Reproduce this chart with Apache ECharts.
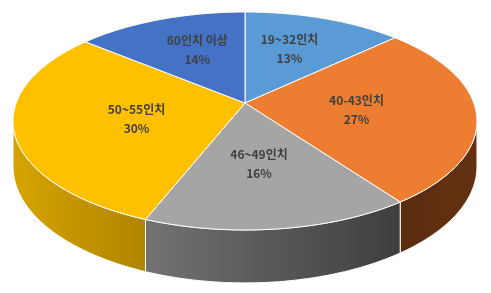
<!DOCTYPE html>
<html>
<head>
<meta charset="utf-8">
<script src="https://cdn.jsdelivr.net/npm/echarts@6/dist/echarts.min.js"></script>
<style>
html,body{margin:0;padding:0;background:#fff;}
#c{width:491px;height:293px;}
</style>
</head>
<body>
<div id="c"></div>
<script>
// ---- data ----
const categories = ['19~32인치', '40-43인치', '46~49인치', '50~55인치', '60인치 이상'];
const values = [13, 27, 16, 30, 14];

// ---- styles ----
const topColors = ['#5B9BD5', '#ED7D31', '#A5A5A5', '#FFC000', '#4472C4'];
const sideColors = [
  ['#3A6E9E', '#2E5A84'],
  ['#5A2C0E', '#643212'],
  ['#727272', '#3E3E3E'],
  ['#D6A300', '#B08500'],
  ['#2F5597', '#264679']
];

// ---- projection (perspective tilted disc) ----
const CX = 245, A = 103, B = 89.0, P = -0.1651, Q = 228.8, T = 44.2;
function proj(r, th) {
  const u = r * Math.sin(th), v = -r * Math.cos(th);
  const d = 1 + P * v;
  return [CX + Q * u / d, (A + B * v) / d, T / d];
}
const TH_R = Math.acos(P);               // right-most point of rim
const TH_L = 2 * Math.PI - Math.acos(P); // left-most point of rim

const total = values.reduce((s, v) => s + v, 0);
const starts = [];
let acc = 0;
values.forEach(v => { starts.push(acc); acc += v; });

function arcPts(a0, a1, n) {
  const pts = [];
  for (let k = 0; k <= n; k++) {
    const t = a0 + (a1 - a0) * k / n;
    pts.push(proj(1, t));
  }
  return pts;
}

function renderItem(params, api) {
  const i = params.dataIndex;
  const a0 = starts[i] / total * 2 * Math.PI;
  const a1 = (starts[i] + values[i]) / total * 2 * Math.PI;
  const children = [];

  // side (front rim only)
  const s0 = Math.max(a0, TH_R), s1 = Math.min(a1, TH_L);
  if (s1 > s0) {
    const top = arcPts(s0, s1, 60);
    const pts = top.map(p => [p[0], p[1]]);
    for (let k = top.length - 1; k >= 0; k--) pts.push([top[k][0], top[k][1] + top[k][2]]);
    const xs = pts.map(p => p[0]);
    const minX = Math.min.apply(null, xs), maxX = Math.max.apply(null, xs);
    children.push({
      type: 'polygon',
      shape: { points: pts },
      style: {
        fill: new echarts.graphic.LinearGradient(minX, 0, maxX, 0, [
          { offset: 0, color: sideColors[i][0] },
          { offset: 1, color: sideColors[i][1] }
        ], true),
        stroke: '#ffffff',
        lineWidth: 1
      },
      z2: 1
    });
  }

  // top face
  const c = proj(0, 0);
  const tp = [[c[0], c[1]]].concat(arcPts(a0, a1, 80).map(p => [p[0], p[1]]));
  children.push({
    type: 'polygon',
    shape: { points: tp },
    style: { fill: topColors[i], stroke: '#ffffff', lineWidth: 1 },
    z2: 2
  });

  // labels
  const am = (a0 + a1) / 2;
  const lx = 245 + 112 * Math.sin(am);
  const ly = 104 - 60 * Math.cos(am);
  const pct = Math.round(values[i] / total * 100) + '%';
  const font = 'bold 12px "Noto Sans CJK KR", "Noto Sans", sans-serif';
  children.push({
    type: 'text', z2: 5,
    style: { x: lx, y: ly - 9.5, text: categories[i], fill: '#404040', font: font, align: 'center', verticalAlign: 'middle' }
  });
  children.push({
    type: 'text', z2: 5,
    style: { x: lx, y: ly + 9.5, text: pct, fill: '#404040', font: font, align: 'center', verticalAlign: 'middle' }
  });

  return { type: 'group', children: children };
}

const chart = echarts.init(document.getElementById('c'), null, { renderer: 'canvas' });
chart.setOption({
  backgroundColor: '#ffffff',
  animation: false,
  series: [{
    type: 'custom',
    coordinateSystem: 'none',
    renderItem: renderItem,
    data: values.map((v, i) => ({ name: categories[i], value: v }))
  }]
});
</script>
</body>
</html>
